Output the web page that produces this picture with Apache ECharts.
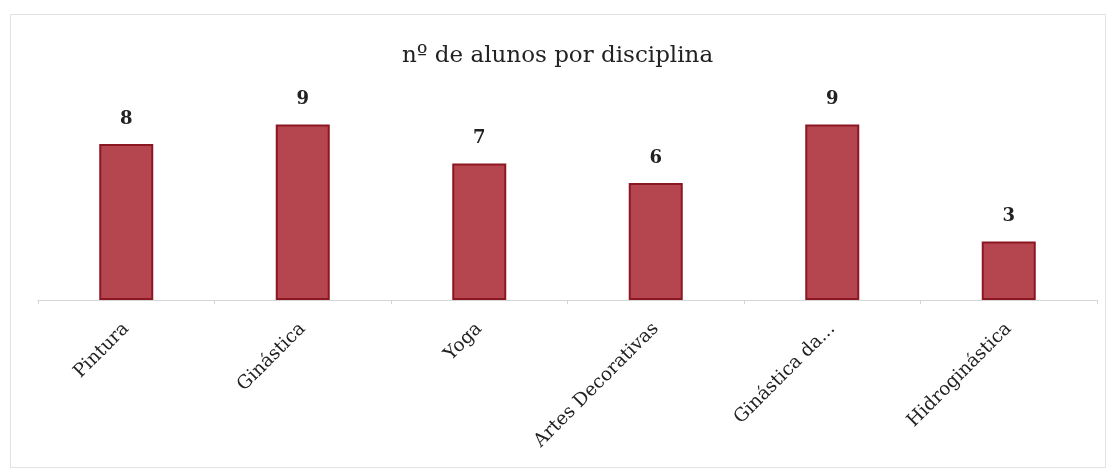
<!DOCTYPE html>
<html>
<head>
<meta charset="utf-8">
<script src="https://cdn.jsdelivr.net/npm/echarts@6/dist/echarts.min.js"></script>
<style>
    html, body { margin: 0; padding: 0; background: #fff; }
    #frame { position: absolute; left: 10px; top: 14px; width: 1094px; height: 452px; border: 1px solid #e2e2e2; }
    #chart { width: 1115px; height: 474px; }
</style>
</head>
<body>
<div id="frame"></div>
<div id="chart"></div>
<script>
const categories = ['Pintura', 'Ginástica', 'Yoga', 'Artes Decorativas', 'Ginástica da...', 'Hidroginástica']
const alunos = [8, 9, 7, 6, 9, 3]
const title = 'nº de alunos por disciplina'

const chart = echarts.init(document.getElementById('chart'))
const serif = 'DejaVu Serif'

const option = {
    animation: false,
    title: {
        text: title,
        left: 'center',
        top: 40,
        textStyle: {
            fontFamily: serif,
            fontWeight: 'normal',
            fontSize: 23,
            color: '#222'
        }
    },
    grid: {
        left: 38,
        right: 18,
        top: 105,
        bottom: 174
    },
    xAxis: {
        type: 'category',
        data: categories,
        axisLine: { lineStyle: { color: '#d6d6d6', width: 1 } },
        axisTick: { show: true, length: 4, lineStyle: { color: '#d6d6d6' } },
        axisLabel: {
            rotate: 45,
            margin: 26,
            interval: 0,
            fontFamily: serif,
            fontSize: 18.5,
            color: '#222'
        }
    },
    yAxis: {
        type: 'value',
        min: 0,
        max: 10,
        show: false
    },
    series: [{
        type: 'bar',
        data: alunos,
        barWidth: 54,
        itemStyle: {
            color: '#b5464f',
            borderColor: '#8a1722',
            borderWidth: 2
        },
        label: {
            show: true,
            position: 'top',
            distance: 16,
            fontFamily: serif,
            fontWeight: 'bold',
            fontSize: 18,
            color: '#222'
        }
    }]
}

chart.setOption(option)
</script>
</body>
</html>
